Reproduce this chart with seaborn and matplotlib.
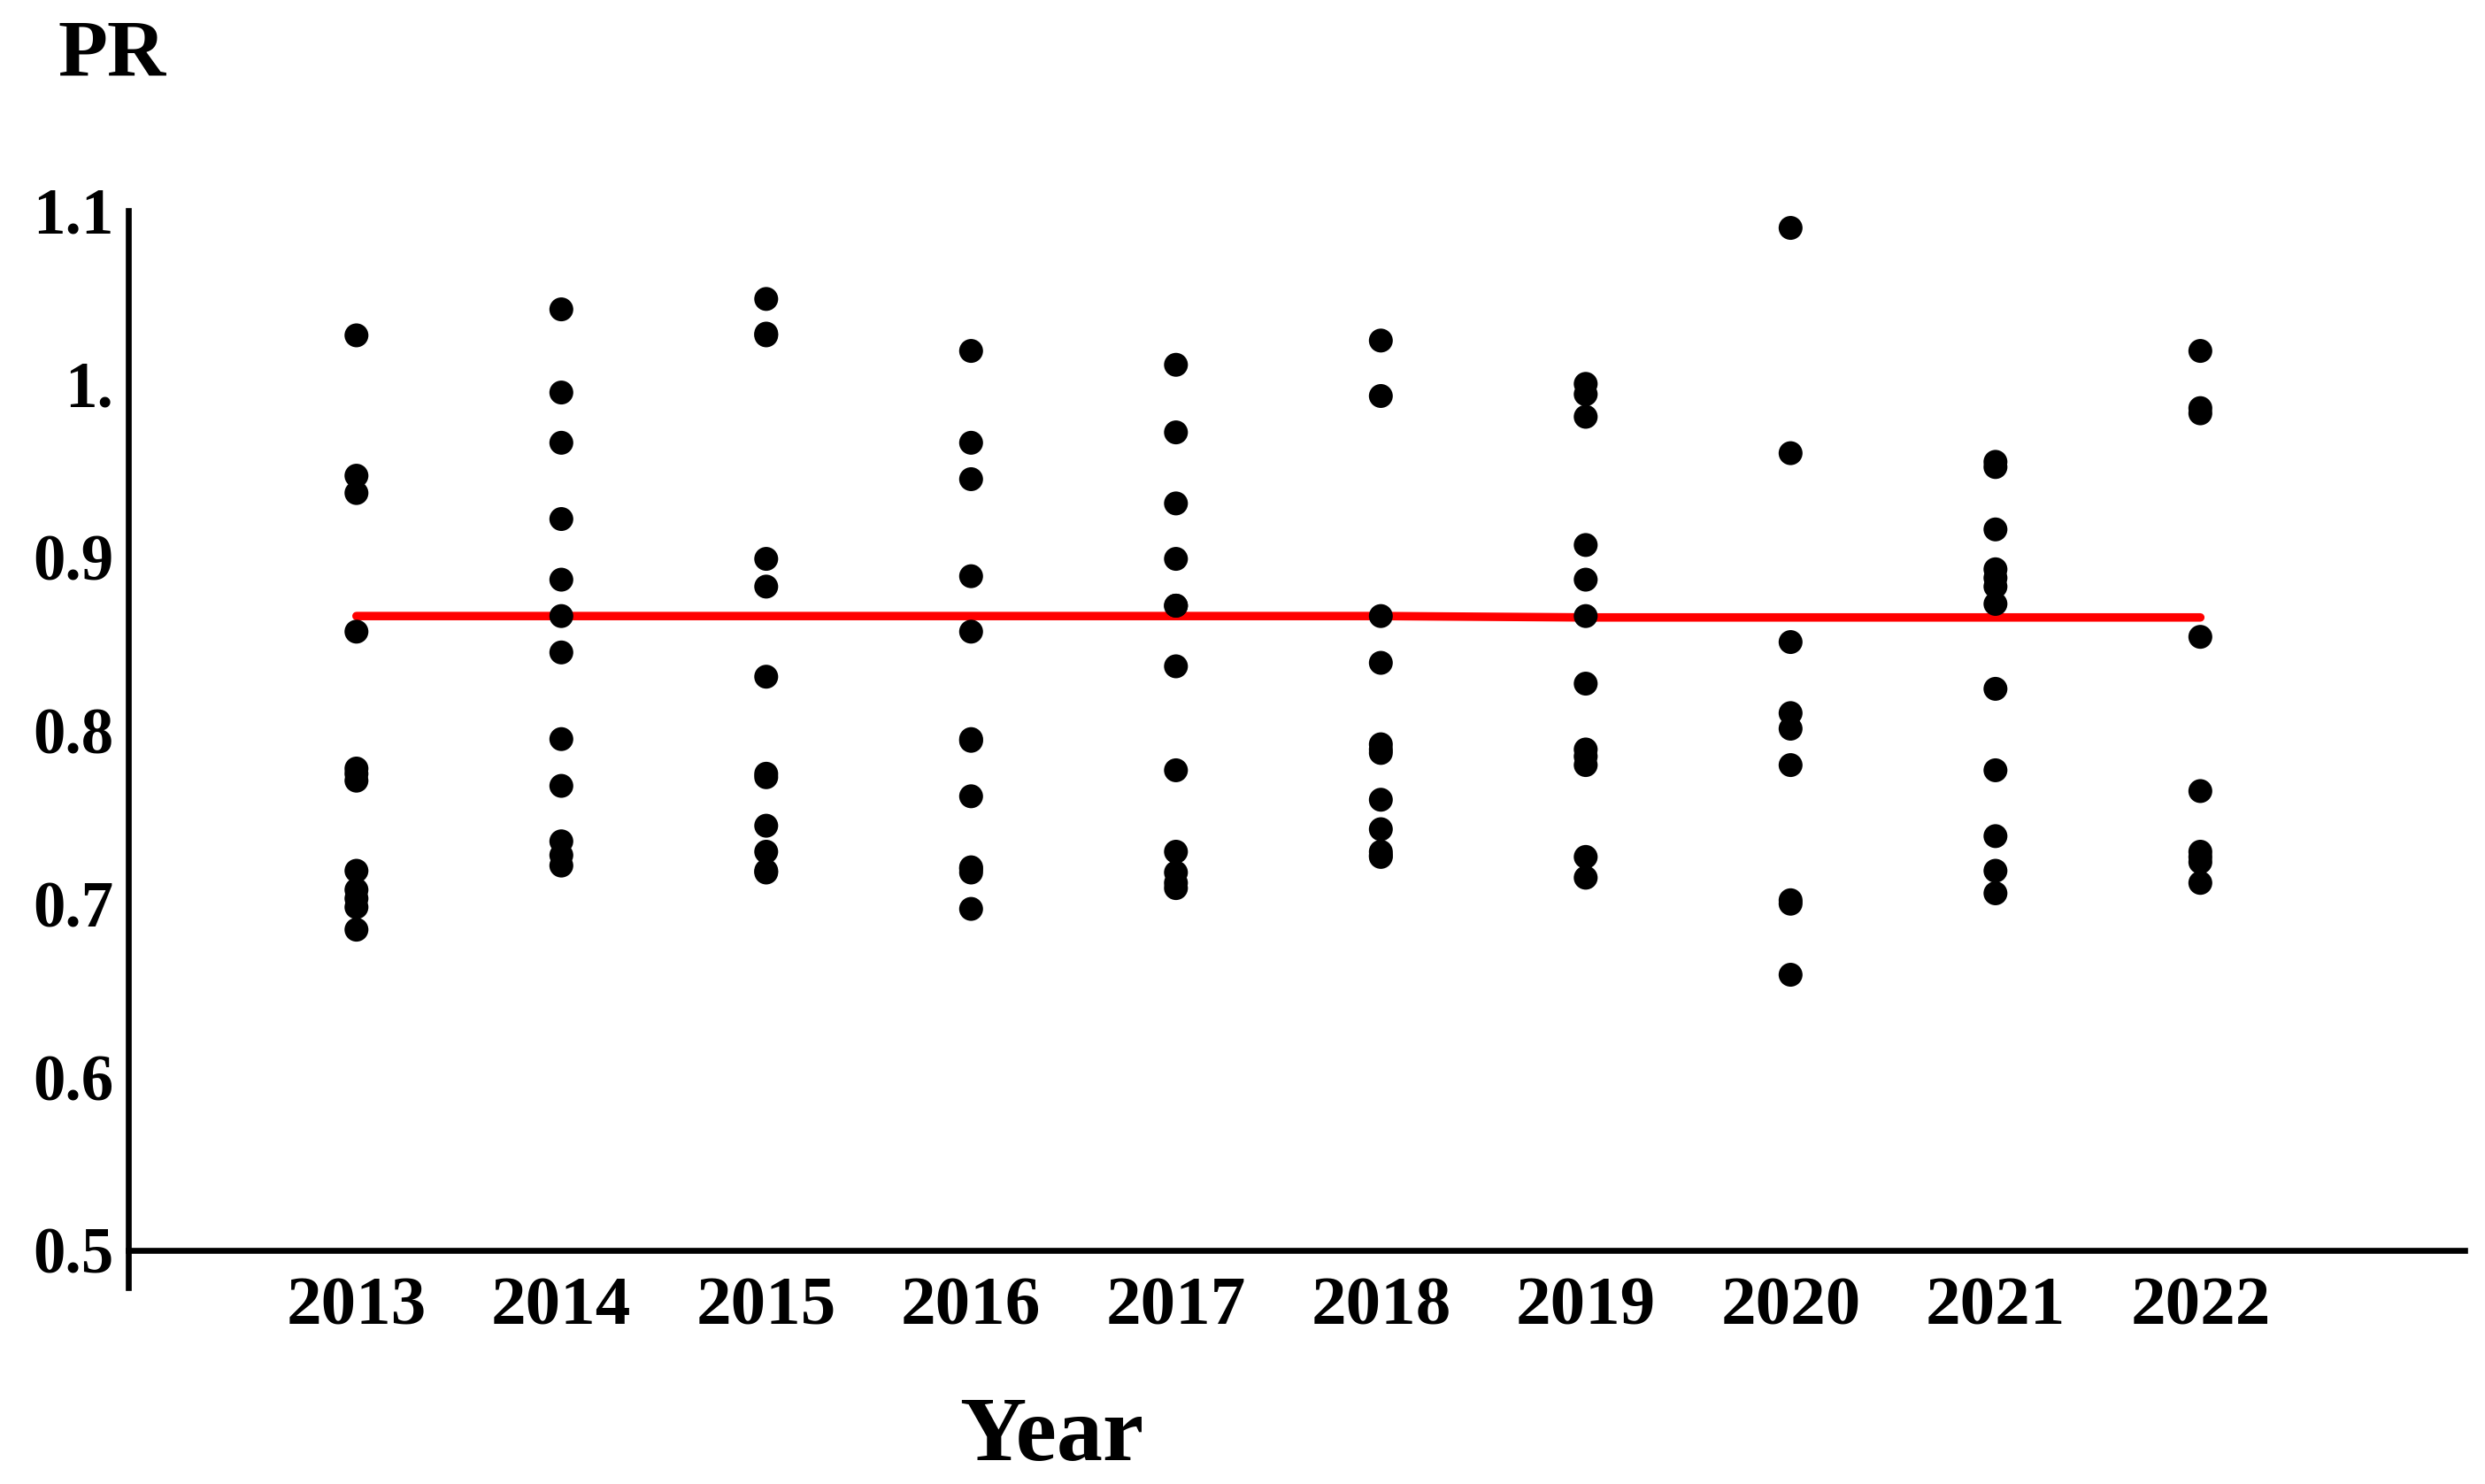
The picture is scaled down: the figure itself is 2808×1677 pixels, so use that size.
import matplotlib
matplotlib.use("Agg")
import matplotlib.pyplot as plt
import seaborn as sns
import pandas as pd

# monthly PR values per year
years = [2013, 2014, 2015, 2016, 2017, 2018, 2019, 2020, 2021, 2022]
pr_2013 = [1.028, 0.947, 0.937, 0.857, 0.778, 0.771, 0.775, 0.719, 0.708, 0.703, 0.698, 0.685]
pr_2014 = [1.043, 0.995, 0.966, 0.922, 0.887, 0.866, 0.845, 0.795, 0.768, 0.736, 0.728, 0.722]
pr_2015 = [1.049, 1.029, 1.028, 0.899, 0.883, 0.831, 0.775, 0.773, 0.745, 0.730, 0.719, 0.718]
pr_2016 = [1.019, 0.966, 0.945, 0.889, 0.857, 0.795, 0.794, 0.762, 0.721, 0.720, 0.718, 0.697]
pr_2017 = [1.011, 0.972, 0.931, 0.899, 0.872, 0.872, 0.837, 0.777, 0.730, 0.718, 0.712, 0.709]
pr_2018 = [1.025, 0.993, 0.866, 0.839, 0.792, 0.789, 0.787, 0.760, 0.743, 0.730, 0.728, 0.727]
pr_2019 = [1.000, 0.994, 0.981, 0.907, 0.887, 0.866, 0.827, 0.789, 0.785, 0.780, 0.727, 0.715]
pr_2020 = [1.090, 0.960, 0.851, 0.810, 0.801, 0.780, 0.702, 0.700, 0.659]
pr_2021 = [0.955, 0.952, 0.916, 0.893, 0.888, 0.883, 0.873, 0.824, 0.777, 0.739, 0.719, 0.706]
pr_2022 = [1.019, 0.986, 0.983, 0.854, 0.765, 0.730, 0.727, 0.724, 0.712]
mean_line = [0.866, 0.866, 0.866, 0.866, 0.866, 0.866, 0.8652, 0.8652, 0.8652, 0.8652]

ytick_vals = [0.5, 0.6, 0.7, 0.8, 0.9, 1.0, 1.1]
ytick_labels = ["0.5", "0.6", "0.7", "0.8", "0.9", "1.", "1.1"]

all_pr = [pr_2013, pr_2014, pr_2015, pr_2016, pr_2017,
          pr_2018, pr_2019, pr_2020, pr_2021, pr_2022]
rows = []
for yr, vals in zip(years, all_pr):
    for v in vals:
        rows.append({"Year": yr, "PR": v})
df = pd.DataFrame(rows)
line_df = pd.DataFrame({"Year": years, "PR": mean_line})

sns.set_style("white")
plt.rcParams['font.family'] = ['Liberation Serif', 'DejaVu Serif']
plt.rcParams['font.weight'] = 'bold'
plt.rcParams['text.color'] = 'black'
plt.rcParams['axes.labelcolor'] = 'black'

fig = plt.figure(figsize=(9.36, 5.59), dpi=300)
ax = fig.add_axes([0.0516, 0.1324, 0.9402, 0.7257])

sns.lineplot(data=line_df, x="Year", y="PR", color="#ff0000", lw=2.3, ax=ax, zorder=2)
sns.scatterplot(data=df, x="Year", y="PR", color="black", s=42, edgecolor="none",
                ax=ax, zorder=3)

ax.set_xlim(2011.886, 2023.29)
ax.set_ylim(0.4785, 1.1)

ax.spines['top'].set_visible(False)
ax.spines['right'].set_visible(False)
ax.spines['bottom'].set_position(('data', 0.5))
ax.spines['bottom'].set_linewidth(1.6)
ax.spines['left'].set_linewidth(1.6)
ax.spines['bottom'].set_color('black')
ax.spines['left'].set_color('black')

ax.set_xticks(years)
ax.set_xticklabels([str(y) for y in years], fontsize=19, fontweight='bold')
ax.set_yticks(ytick_vals)
ax.set_yticklabels(ytick_labels, fontsize=17.5, fontweight='bold')
ax.tick_params(axis='x', direction='in', length=5, width=0.8, pad=7, colors='black')
ax.tick_params(axis='y', direction='in', length=5.5, width=0.8, pad=4, colors='black')

ax.set_xlabel("Year", fontsize=25, fontweight='bold', va='center')
ax.xaxis.set_label_coords(0.395, -0.14)
ax.set_ylabel("")
fig.text(0.045, 0.962, "PR", fontsize=22, fontweight='bold', ha='center', va='center')

fig.savefig("out.png", dpi=300, facecolor="white")
